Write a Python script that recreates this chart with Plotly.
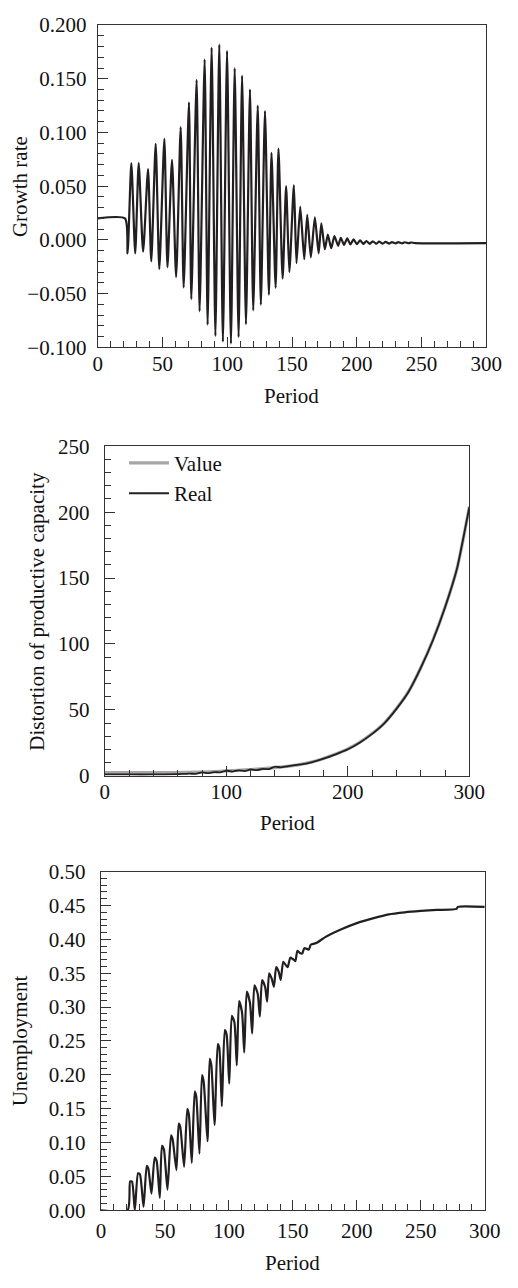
import plotly.graph_objects as go

# ---------------- data ----------------
# Panel 1: growth rate (turning points)
growth_period = [0, 21, 23, 25.9, 28.9, 31.6, 35, 38.8, 41.3, 44.7, 47.5, 51.4, 53.8, 57.3,
                 60.5, 64, 66.3, 70.4, 72.2, 76.3, 78.6, 82.5, 84.8, 87.9, 90.8, 93.8, 96.6,
                 99.8, 102.8, 105.7, 108.7, 111.4, 114.4, 117.5, 120, 123.5, 125.9, 129.1,
                 132.1, 134.1, 137.3, 139.5, 142.7, 145.4, 147.9, 151.4, 153.4, 156.3, 159.4,
                 161.7, 164.5, 167.6, 170.5, 172.6, 175.3, 177.6, 180.2, 182.7, 185.6, 187.6,
                 190.1, 192.6, 195, 197.5, 200, 202.5, 205, 207.4, 210, 212.3, 215, 217.2,
                 220, 222.2, 225, 227.1, 230, 232, 235, 237, 240, 242, 245, 300]
growth_rate = [0.020, 0.020, -0.0125, 0.0715, -0.0125, 0.0715, -0.011, 0.066, -0.020, 0.0895,
               -0.027, 0.094, -0.0255, 0.0745, -0.0345, 0.105, -0.0443, 0.128, -0.0552, 0.149,
               -0.0665, 0.168, -0.079, 0.179, -0.0895, 0.182, -0.0948, 0.176, -0.0966, 0.160,
               -0.0905, 0.153, -0.0786, 0.140, -0.0656, 0.125, -0.0604, 0.120, -0.051, 0.081,
               -0.0445, 0.085, -0.036, 0.050, -0.030, 0.051, -0.0217, 0.031, -0.018, 0.0233,
               -0.0162, 0.021, -0.0125, 0.0155, -0.0087, 0.005, -0.0077, 0.0036, -0.0055,
               0.002, -0.0046, 0.0014, -0.0041, 0.0005, -0.004, -0.0004, -0.0038, -0.001,
               -0.0037, -0.0013, -0.0036, -0.0016, -0.0035, -0.0018, -0.0034, -0.002, -0.0033,
               -0.0021, -0.0032, -0.0022, -0.0031, -0.0024, -0.003, -0.003]

# Panel 2: distortion of productive capacity
value_period = [0, 20, 40, 60, 70, 80, 90, 100, 110, 120, 130, 140, 150, 160, 170, 180, 190,
                200, 210, 220, 230, 240, 250, 260, 270, 280, 290, 300]
dist_value = [2.5, 2.5, 2.5, 2.5, 2.6, 2.9, 3.2, 3.7, 4.2, 4.8, 5.4, 6.2, 7.2, 8.5, 10.4,
              13.2, 16.5, 20.3, 25.5, 32, 40, 51, 64, 82, 103, 128, 158, 204]
real_period = [0, 20, 40, 60, 70, 75, 80, 85, 90, 95, 100, 105, 110, 115, 120, 125, 130, 135,
               140, 145, 150, 160, 170, 180, 190, 200, 210, 220, 230, 240, 250, 260, 270, 280,
               290, 296, 300]
dist_real = [1.0, 1.0, 1.0, 1.2, 1.6, 1.5, 2.6, 2.0, 2.8, 2.6, 4.0, 3.2, 4.1, 3.6, 4.8, 4.3,
             5.2, 5.0, 7.0, 6.4, 7.2, 8.4, 10.2, 13.0, 16.3, 20.1, 25.3, 31.8, 39.8, 50.8,
             63.8, 81.8, 102.8, 127.8, 157.8, 185, 204]

# Panel 3: unemployment
unemp_period = [0, 20.8, 22.8, 24.3, 26.5, 29, 30.5, 33.3, 35.8, 37, 39.5, 42, 43.5, 46, 47.7,
                49.2, 52, 54.8, 56, 59, 60.8, 62, 65, 67.5, 68.7, 71, 73.3, 74.5, 77, 79, 80.3,
                83.3, 85, 86.3, 88.8, 91.3, 92.5, 94.5, 96.8, 98.2, 100.3, 102.3, 104.3, 106.2,
                108, 110.3, 112, 114, 116.5, 118.2, 120, 122.5, 124.2, 126, 128.3, 129.9,
                131.5, 133.5, 135.2, 137, 139, 140.5, 142.5, 144.5, 146, 148, 150, 152, 153.5,
                155.5, 157.3, 159, 162.5, 164, 168.75, 175, 187.5, 200, 212.5, 225, 237.5, 250,
                262.5, 278, 279, 300]
unemployment = [0, 0, 0.0425, 0.042, 0.0, 0.0546, 0.053, 0.005, 0.0657, 0.062, 0.0246, 0.0778,
                0.073, 0.0184, 0.0952, 0.09, 0.0304, 0.1106, 0.105, 0.0594, 0.128, 0.123,
                0.0642, 0.1498, 0.142, 0.070, 0.1754, 0.168, 0.0836, 0.1995, 0.19, 0.102,
                0.2236, 0.214, 0.126, 0.2454, 0.24, 0.1536, 0.266, 0.26, 0.187, 0.287, 0.278,
                0.214, 0.309, 0.292, 0.233, 0.323, 0.306, 0.261, 0.332, 0.32, 0.286, 0.34,
                0.33, 0.308, 0.35, 0.342, 0.33, 0.359, 0.352, 0.34, 0.367, 0.362, 0.359, 0.373,
                0.371, 0.368, 0.383, 0.38, 0.379, 0.387, 0.385, 0.392, 0.395, 0.403, 0.4145,
                0.424, 0.431, 0.437, 0.44, 0.442, 0.4435, 0.445, 0.448, 0.448]

# ---------------- figure ----------------
W, H = 518, 1288
FONT = "Liberation Serif"
INK = "#231f20"
AX = "#333333"


def px_x(p):
    return p / W


def px_y(p):
    return 1 - p / H


fig = go.Figure()

fig.add_trace(go.Scatter(x=growth_period, y=growth_rate, mode="lines",
                         line=dict(color=INK, width=2.2, shape="spline", smoothing=0.6),
                         xaxis="x", yaxis="y", showlegend=False))
fig.add_trace(go.Scatter(x=value_period, y=dist_value, mode="lines", name="Value",
                         line=dict(color="#a6a6a6", width=3.2, shape="spline", smoothing=0.6),
                         xaxis="x2", yaxis="y2", showlegend=True))
fig.add_trace(go.Scatter(x=real_period, y=dist_real, mode="lines", name="Real",
                         line=dict(color=INK, width=1.8, shape="spline", smoothing=0.4),
                         xaxis="x2", yaxis="y2", showlegend=True))
fig.add_trace(go.Scatter(x=unemp_period, y=unemployment, mode="lines",
                         line=dict(color=INK, width=2.2, shape="spline", smoothing=0.6),
                         xaxis="x3", yaxis="y3", showlegend=False))


def axis(domain, anchor, rng, dtick, minor, fmt=None, standoff=4):
    d = dict(domain=domain, anchor=anchor, range=rng, dtick=dtick, tick0=0,
             ticks="inside", ticklen=10, tickwidth=1.2, tickcolor=AX,
             showline=True, linecolor=AX, linewidth=1.3, mirror=True,
             showgrid=False, zeroline=False,
             tickfont=dict(family=FONT, size=21, color="#111111"),
             ticklabelstandoff=standoff,
             minor=dict(dtick=minor, tick0=0, ticks="inside", ticklen=6,
                        tickwidth=1.2, tickcolor=AX, showgrid=False))
    if fmt:
        d["tickformat"] = fmt
    return d


# panel geometry (pixels)
p1 = dict(l=96.7, r=501.7, t=13.3, b=341.7)
p2 = dict(l=104, r=484, t=442.5, b=778.3)
p3 = dict(l=100, r=500, t=876, b=1221)

fig.update_layout(
    width=W, height=H,
    margin=dict(l=0, r=0, t=0, b=0),
    paper_bgcolor="white", plot_bgcolor="white",
    font=dict(family=FONT, size=21, color="#111111"),
    xaxis=axis([px_x(p1["l"]), px_x(p1["r"])], "y", [0, 300], 50, 10, standoff=-3),
    yaxis=axis([px_y(p1["b"]), px_y(p1["t"])], "x", [-0.1, 0.2], 0.05, 0.01, ".3f", standoff=6),
    xaxis2=axis([px_x(p2["l"]), px_x(p2["r"])], "y2", [0, 300], 100, 20, standoff=-3),
    yaxis2=axis([px_y(p2["b"]), px_y(p2["t"])], "x2", [0, 250], 50, 10, standoff=10),
    xaxis3=axis([px_x(p3["l"]), px_x(p3["r"])], "y3", [0, 300], 50, 10, standoff=1),
    yaxis3=axis([px_y(p3["b"]), px_y(p3["t"])], "x3", [0, 0.5], 0.05, 0.01, ".2f", standoff=10),
    legend=dict(x=px_x(124), y=px_y(439), xanchor="left", yanchor="top",
                bgcolor="rgba(0,0,0,0)", borderwidth=0,
                font=dict(family=FONT, size=21, color="#111111"),
                tracegroupgap=0, itemwidth=40),
)

annos = [
    ("Growth rate", 15, 178, 90),
    ("Period", 299, 391.7, 0),
    ("Distortion of productive capacity", 33, 610.5, 90),
    ("Period", 294, 826.7, 0),
    ("Unemployment", 16, 1048.5, 90),
    ("Period", 300, 1275, 0),
]
for text, x, y, rot in annos:
    fig.add_annotation(text=text, x=px_x(x), y=px_y(y), xref="paper", yref="paper",
                       xanchor="center", yanchor="middle", showarrow=False,
                       textangle=-rot if rot else 0,
                       font=dict(family=FONT, size=21, color="#111111"))

fig.write_html("out.html")
